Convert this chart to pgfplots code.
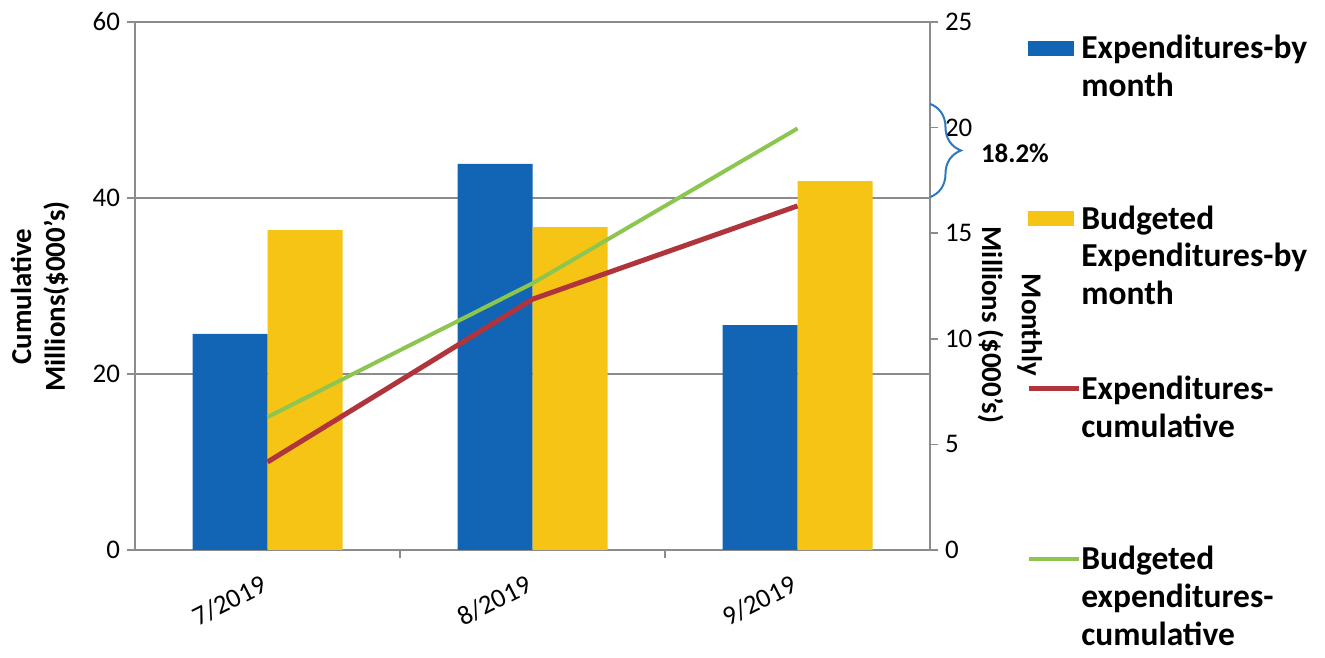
\documentclass[border=0pt]{standalone}
\usepackage{pgfplots}
\pgfplotsset{compat=1.18}
\usepackage{pgfplotstable}
\usepackage{fontspec}
\setmainfont{Carlito}
\usetikzlibrary{decorations.pathreplacing}

\definecolor{cblue}{RGB}{17,101,180}
\definecolor{cyellow}{RGB}{246,196,20}
\definecolor{cred}{RGB}{176,52,60}
\definecolor{cgreen}{RGB}{140,198,80}
\definecolor{cbrace}{RGB}{45,120,190}
\definecolor{gridgray}{RGB}{140,140,140}

\newcommand\ls{\hspace*{-2bp}}

\pgfplotstableread{
x blue yellow
0 10.23 15.15
1 18.28 15.29
2 10.65 17.47
}\monthly

\pgfplotstableread{
x red green
0 10.0 15.1
1 28.5 30.3
2 39.1 47.9
}\cumul

\pgfplotsset{
  base/.style={
    scale only axis, width=397.5bp, height=264bp,
    xmin=-0.5, xmax=2.5, at={(0,0)}, anchor=south west,
    tick align=outside, major tick length=4bp,
    tick style={draw=gridgray, line width=0.8bp},
    axis line style={draw=gridgray, line width=0.8bp, -},
    ticklabel style={font=\fontsize{13.5}{15}\selectfont},
    /pgf/number format/assume math mode=true,
  }
}

\begin{document}
\begin{tikzpicture}
\path[use as bounding box] (-67.5bp,-54bp) rectangle (595bp,275bp);

% axis with grid, left scale and categories
\begin{axis}[base,
  ymin=0, ymax=60, ytick={0,20,40,60},
  axis x line*=bottom, axis y line*=left,
  ymajorgrids, grid style={draw=gridgray, line width=0.8bp},
  xtick={0.5,1.5}, xticklabels={,},
  extra x ticks={0,1,2},
  extra x tick labels={7/2019,8/2019,9/2019},
  extra x tick style={major tick length=0pt},
  xticklabel style={rotate=27, anchor=center, xshift=-28.5bp, yshift=-14bp},
  ylabel={Cumulative\\Millions(\$000's)},
  ylabel style={align=center, font=\fontsize{14.5}{17}\selectfont\bfseries, at={(rel axis cs:-0.1195,0.48)}, anchor=center},
]
\end{axis}

% bars on right scale
\begin{axis}[base,
  ymin=0, ymax=25, ytick={0,5,10,15,20,25},
  axis y line*=right, axis x line=none,
  ybar=0pt, bar width=37.5bp,
  ylabel={Monthly\\Millions (\$000's)},
  ylabel style={align=center, font=\fontsize{14.5}{20}\selectfont\bfseries, at={(rel axis cs:1.1006,0.426)}, anchor=center, rotate=180},
]
\addplot[fill=cblue, draw=none] table[x=x, y=blue]{\monthly};
\addplot[fill=cyellow, draw=none] table[x=x, y=yellow]{\monthly};
\end{axis}

% cumulative lines
\begin{axis}[base,
  ymin=0, ymax=60, hide axis, clip=false,
  legend style={draw=none, fill=none,
    font=\fontsize{16.8}{19}\selectfont\bfseries,
    cells={align=left, anchor=west, inner xsep=1bp},
    at={([xshift=45bp, yshift=-2.5bp]rel axis cs:1,1)}, anchor=north west,
    row sep=30bp},
  legend cell align=left,
]
\addlegendimage{legend image code/.code={\fill[cblue] (0bp,15.5bp) rectangle (22.5bp,22.5bp);}}
\addlegendentry{\ls Expenditures-by\\\ls month\\\strut}
\addlegendimage{legend image code/.code={\fill[cyellow] (0bp,15.5bp) rectangle (22.5bp,22.5bp);}}
\addlegendentry{\ls Budgeted\\\ls Expenditures-by\\\ls month}
\addlegendimage{legend image code/.code={\draw[cred, line width=2.5bp] (0bp,19bp) -- (25bp,19bp);}}
\addlegendentry{\ls Expenditures-\\\ls cumulative\\\strut}
\addlegendimage{legend image code/.code={\draw[cgreen, line width=2bp] (0bp,19bp) -- (25bp,19bp);}}
\addlegendentry{\ls Budgeted\\\ls expenditures-\\\ls cumulative}

\addplot[cred, line width=2.5bp, forget plot] table[x=x, y=red]{\cumul};
\addplot[cgreen, line width=2bp, forget plot] table[x=x, y=green]{\cumul};

\draw[cbrace, line width=1bp, decorate, decoration={brace, amplitude=15.5bp}]
  (axis cs:2.5,50.7) -- (axis cs:2.5,40.1);
\node[anchor=west, font=\fontsize{13.5}{15}\selectfont\bfseries] at ([xshift=22bp]axis cs:2.5,45.1) {18.2\%};
\end{axis}
\end{tikzpicture}
\end{document}
